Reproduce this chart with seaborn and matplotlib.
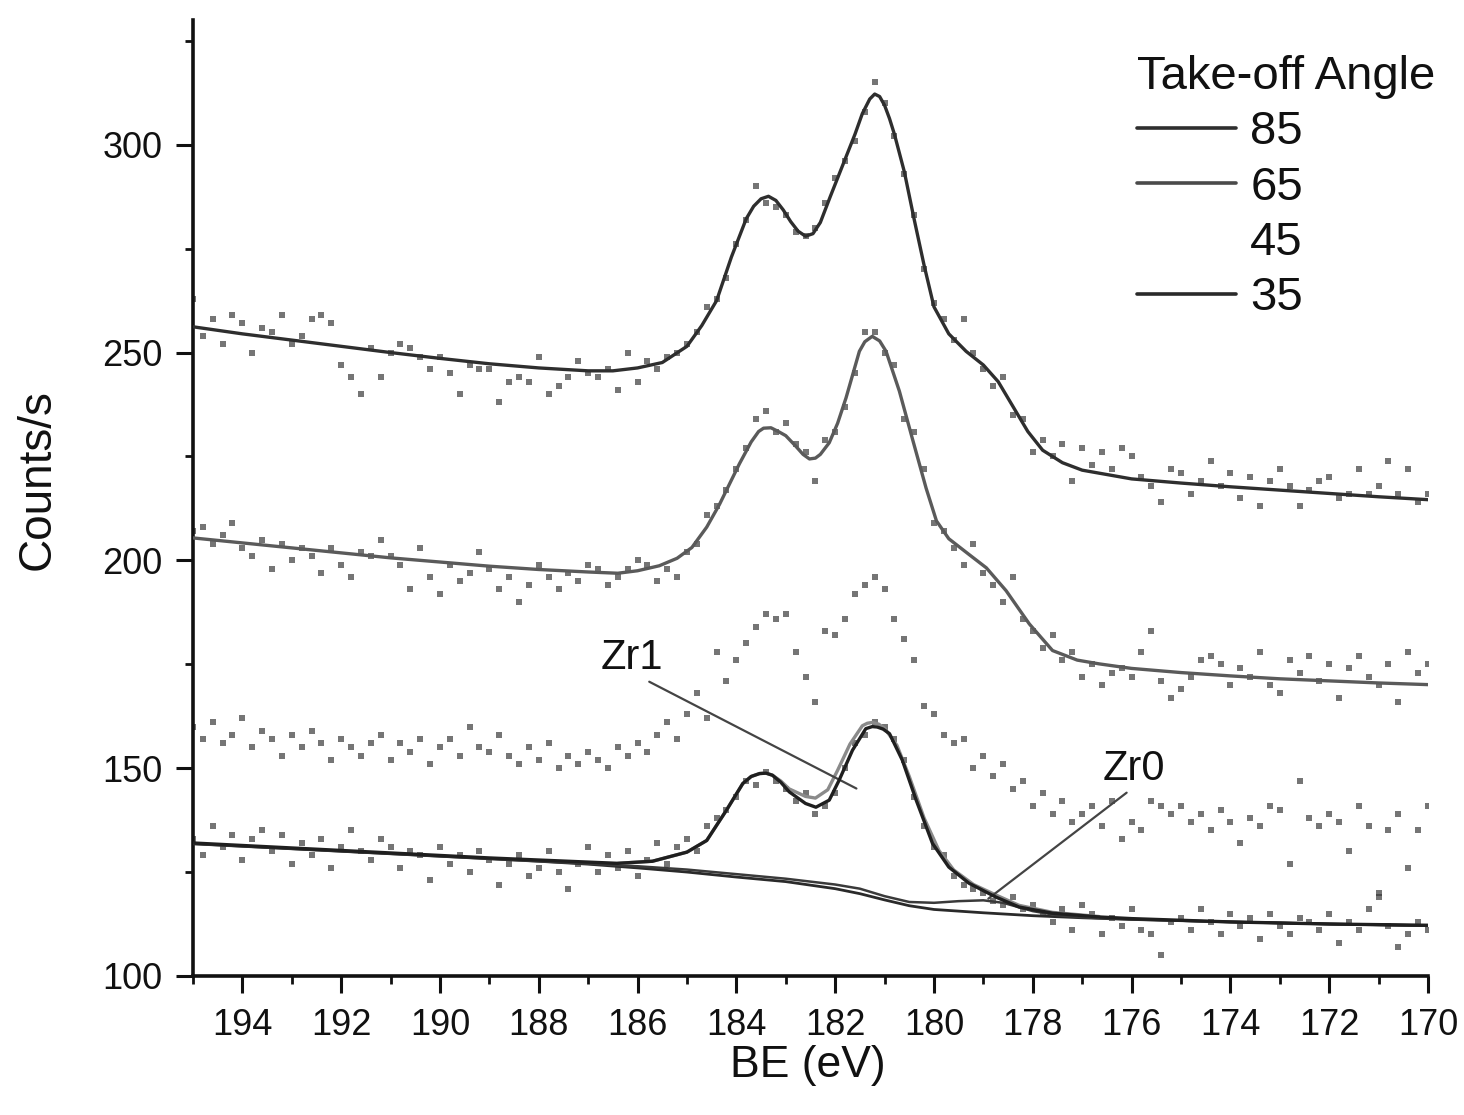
import numpy as np
import matplotlib
matplotlib.use("Agg")
import matplotlib.pyplot as plt
from matplotlib.lines import Line2D
from matplotlib.ticker import MultipleLocator
import seaborn as sns

# Binding-energy grid of the recorded Zr 3d spectra (eV, 0.2 eV step)
be_grid = np.round(np.linspace(195.0, 170.0, 126), 1)

# Measured counts per take-off angle
counts_85 = [263, 254, 258, 252, 259, 257, 250, 256, 255, 259,
             252, 254, 258, 259, 257, 247, 244, 240, 251, 244,
             250, 252, 251, 249, 246, 249, 245, 240, 247, 246,
             246, 238, 243, 244, 243, 249, 240, 242, 244, 248,
             245, 244, 246, 241, 250, 243, 248, 246, 249, 250,
             252, 255, 261, 263, 268, 276, 282, 290, 286, 285,
             283, 279, 278, 280, 286, 292, 296, 301, 308, 315,
             310, 302, 293, 283, 270, 262, 258, 253, 258, 250,
             246, 242, 244, 235, 234, 226, 229, 225, 228, 219,
             227, 223, 226, 222, 227, 225, 220, 218, 214, 222,
             221, 216, 219, 224, 218, 221, 215, 220, 213, 219,
             222, 218, 213, 217, 219, 220, 215, 216, 222, 216,
             218, 224, 216, 222, 214, 216]

counts_65 = [207, 208, 204, 206, 209, 203, 201, 205, 198, 204,
             200, 203, 201, 197, 203, 199, 196, 202, 201, 205,
             201, 199, 193, 203, 196, 192, 199, 195, 197, 202,
             198, 193, 196, 190, 194, 199, 196, 193, 197, 195,
             199, 198, 194, 196, 198, 200, 199, 195, 198, 196,
             202, 204, 211, 213, 217, 222, 227, 234, 236, 231,
             233, 228, 226, 219, 229, 231, 237, 245, 255, 255,
             250, 247, 234, 231, 222, 209, 207, 203, 199, 204,
             197, 194, 190, 196, 186, 183, 179, 182, 176, 178,
             172, 175, 170, 173, 174, 172, 178, 183, 171, 167,
             169, 172, 176, 177, 175, 170, 174, 172, 178, 170,
             168, 176, 173, 177, 171, 175, 167, 174, 177, 172,
             170, 175, 166, 178, 173, 175]

counts_45 = [160, 157, 161, 156, 158, 162, 155, 159, 157, 153,
             158, 155, 159, 156, 152, 157, 155, 153, 156, 158,
             152, 156, 154, 157, 151, 155, 157, 153, 160, 155,
             154, 158, 153, 151, 155, 152, 156, 150, 153, 151,
             154, 152, 150, 155, 153, 156, 154, 158, 161, 157,
             163, 168, 162, 178, 171, 176, 180, 184, 187, 186,
             187, 178, 172, 166, 183, 182, 186, 192, 194, 196,
             193, 186, 181, 176, 165, 163, 158, 156, 157, 150,
             153, 148, 151, 145, 147, 141, 144, 139, 142, 137,
             139, 141, 136, 142, 133, 137, 135, 142, 141, 139,
             141, 137, 139, 135, 140, 137, 132, 138, 136, 141,
             140, 127, 147, 138, 136, 139, 137, 130, 141, 136,
             120, 135, 139, 126, 135, 141]

counts_35 = [133, 129, 136, 131, 134, 128, 133, 135, 130, 134,
             127, 132, 129, 133, 126, 131, 135, 130, 128, 133,
             131, 126, 130, 129, 123, 131, 127, 129, 125, 130,
             128, 122, 127, 129, 124, 126, 130, 125, 121, 127,
             131, 125, 129, 126, 130, 124, 128, 132, 127, 131,
             133, 130, 136, 138, 140, 143, 147, 146, 149, 147,
             145, 142, 144, 139, 141, 144, 150, 156, 158, 161,
             160, 157, 152, 143, 136, 131, 129, 124, 122, 121,
             120, 118, 117, 119, 116, 117, 115, 113, 116, 111,
             117, 115, 110, 114, 112, 116, 111, 110, 105, 113,
             114, 111, 116, 113, 110, 115, 112, 114, 109, 115,
             112, 110, 114, 113, 111, 115, 108, 113, 111, 116,
             119, 112, 107, 110, 113, 111]

# Fitted envelopes
fit_85_be = [195.0, 194.0, 193.0, 192.0, 191.0, 190.0, 189.0, 188.0, 187.0,
             186.5, 186.0, 185.5, 185.0, 184.7, 184.4, 184.1, 183.8, 183.65,
             183.5, 183.35, 183.2, 183.05, 182.9, 182.75, 182.6, 182.45,
             182.3, 182.1, 181.85, 181.6, 181.45, 181.3, 181.2, 181.1, 181.0,
             180.9, 180.8, 180.6, 180.4, 180.2, 180.0, 179.7, 179.35, 179.0,
             178.7, 178.4, 178.1, 177.8, 177.4, 177.0, 176.0, 175.0, 174.0,
             173.0, 172.0, 171.0, 170.0]
fit_85 = [256.2, 254.5, 253.0, 251.5, 250.0, 248.6, 247.3, 246.3, 245.6,
          245.6, 246.3, 247.6, 251.5, 256.5, 262.5, 273.0, 282.2, 285.2,
          287.0, 287.6, 286.6, 284.3, 281.5, 279.2, 278.0, 278.6,
          281.3, 287.5, 295.0, 302.5, 307.5, 311.0, 312.2, 311.6, 309.5,
          306.3, 302.5, 293.5, 282.0, 271.0, 261.0, 254.5, 250.3, 247.0,
          243.0, 237.0, 231.0, 226.5, 223.5, 221.7, 219.6, 218.6, 217.7,
          216.9, 216.1, 215.3, 214.6]

fit_65_be = [195.0, 194.0, 193.0, 192.0, 191.0, 190.0, 189.0, 188.0, 187.0,
             186.4, 186.0, 185.56, 185.2, 184.9, 184.6, 184.34, 183.94,
             183.7, 183.55, 183.45, 183.3, 183.15, 183.0, 182.8, 182.65,
             182.52, 182.4, 182.3, 182.12, 181.95, 181.78, 181.51, 181.4,
             181.25, 181.1, 180.97, 180.7, 180.44, 180.16, 179.95, 179.7,
             179.3, 178.94, 178.54, 178.07, 177.6, 177.1, 176.66, 176.0,
             175.0, 174.0, 173.0, 172.0, 171.0, 170.0]
fit_65 = [205.4, 204.2, 203.0, 201.8, 200.6, 199.6, 198.6, 197.8, 197.2,
          196.9, 197.5, 198.7, 200.5, 203.1, 208.0, 213.5, 223.2,
          228.5, 231.0, 231.8, 231.9, 231.0, 230.0, 227.5, 225.5,
          224.4, 224.6, 225.5, 228.3, 233.0, 239.1, 250.3, 252.6,
          253.9, 252.8, 250.3, 240.7, 229.4, 217.4, 209.5, 205.2,
          201.5, 198.2, 192.7, 184.7, 178.3, 176.0, 175.1, 174.0,
          173.0, 172.2, 171.5, 171.0, 170.5, 170.1]

fit_35_be = [195.0, 194.0, 193.0, 192.0, 191.0, 190.0, 189.0, 188.0, 187.0,
             186.4, 185.7, 185.0, 184.6, 184.2, 183.87, 183.7, 183.53, 183.4,
             183.27, 183.1, 182.93, 182.6, 182.39, 182.12, 181.92, 181.65,
             181.38, 181.25, 181.15, 181.03, 180.9, 180.64, 180.36, 180.03,
             179.7, 179.29, 178.75, 178.28, 177.6, 176.66, 176.0, 174.0,
             172.0, 170.0]
fit_35 = [132.0, 131.4, 130.8, 130.2, 129.6, 129.0, 128.4, 127.9, 127.4,
          127.1, 127.6, 129.8, 132.6, 139.9, 146.3, 148.0, 148.7, 148.8,
          148.3, 146.6, 144.3, 141.5, 140.6, 142.3, 147.1, 154.3,
          159.5, 160.0, 159.9, 159.4, 158.3, 151.9, 142.3, 131.9,
          126.2, 122.3, 119.0, 116.6, 115.1, 114.2, 113.8, 113.0,
          112.5, 112.2]

# Components of the 35 degree fit
zr1_be = [186.4, 185.7, 185.0, 184.6, 184.2, 183.87, 183.7, 183.53, 183.4,
          183.27, 183.1, 182.93, 182.6, 182.4, 182.15, 181.95, 181.7, 181.45,
          181.35, 181.25, 181.12, 181.0, 180.75, 180.5, 180.2, 179.9, 179.6,
          179.2, 178.75, 178.28, 177.6, 176.66]
zr1 = [127.1, 127.6, 129.8, 132.6, 139.9, 146.3, 148.0, 148.7, 148.8,
       148.3, 146.9, 145.0, 143.2, 142.8, 144.8, 149.5, 155.8, 160.2,
       160.8, 161.0, 160.6, 159.6, 155.5, 148.0, 138.0, 130.2, 125.5,
       122.0, 119.5, 117.0, 115.3, 114.3]

zr0_be = [195.0, 190.0, 187.0, 186.0, 185.0, 184.0, 183.0, 182.0, 181.5,
          181.0, 180.5, 180.0, 179.5, 179.0, 178.6, 178.0, 177.5, 177.0,
          176.0, 174.0, 172.0, 170.0]
zr0 = [131.8, 128.8, 127.0, 126.4, 125.6, 124.5, 123.4, 122.0, 121.0,
       119.2, 117.8, 117.6, 118.0, 118.2, 117.6, 115.6, 114.6, 114.1,
       113.6, 113.0, 112.5, 112.1]

bg_be = [195.0, 190.0, 188.0, 187.0, 186.0, 185.0, 184.0, 183.0, 182.0,
         181.5, 181.0, 180.5, 180.0, 179.5, 179.0, 178.0, 177.0, 176.0,
         174.0, 172.0, 170.0]
background = [131.8, 128.8, 127.6, 126.9, 126.0, 125.0, 123.8, 122.7, 121.0,
              119.8, 118.3, 116.9, 116.0, 115.6, 115.2, 114.5, 114.0, 113.6,
              113.0, 112.5, 112.1]

angle_labels = ["85", "65", "45", "35"]
dot_color = "#3a3a3a"
ink = "#111111"

sns.set_theme(style="ticks")
plt.rcParams["font.family"] = ["Liberation Sans", "DejaVu Sans"]

fig = plt.figure(figsize=(14.64, 11.15), dpi=100)
ax = fig.add_axes([0.1318, 0.1247, 0.8436, 0.8573])

# Raw data points
for counts in (counts_85, counts_65, counts_45, counts_35):
    sns.scatterplot(x=be_grid, y=counts, ax=ax, marker="s", s=15,
                    color=dot_color, alpha=0.7, linewidth=0, legend=False,
                    zorder=2)

# Background and components of the 35 degree spectrum
sns.lineplot(x=bg_be, y=background, ax=ax, color="#2a2a2a", lw=2.0,
             legend=False, zorder=3)
sns.lineplot(x=zr0_be, y=zr0, ax=ax, color="#3a3a3a", lw=1.8,
             legend=False, zorder=3)
sns.lineplot(x=zr1_be, y=zr1, ax=ax, color="#8a8a8a", lw=2.4,
             legend=False, zorder=3)

# Fitted envelopes
for xs, ys, col in [(fit_85_be, fit_85, "#2e2e2e"),
                    (fit_65_be, fit_65, "#5a5a5a"),
                    (fit_35_be, fit_35, "#1f1f1f")]:
    sns.lineplot(x=xs, y=ys, ax=ax, color=col, lw=2.4, legend=False,
                 zorder=4)

ax.set_xlim(195, 170)
ax.set_ylim(100, 330)
ax.xaxis.set_major_locator(MultipleLocator(2))
ax.xaxis.set_minor_locator(MultipleLocator(1))
ax.yaxis.set_minor_locator(MultipleLocator(25))
ax.set_yticks([100, 150, 200, 250, 300])

for side in ("top", "right"):
    ax.spines[side].set_visible(False)
for side in ("left", "bottom"):
    ax.spines[side].set_linewidth(2.6)
    ax.spines[side].set_color(ink)

ax.tick_params(which="major", direction="out", length=12, width=2.2,
               labelsize=26, color=ink, labelcolor=ink)
ax.tick_params(axis="x", which="major", pad=11)
ax.tick_params(axis="y", which="major", pad=10)
ax.tick_params(which="minor", direction="out", length=6, width=2.0,
               color=ink)

ax.set_xlabel("BE (eV)", fontsize=32, color=ink)
ax.set_ylabel("Counts/s", fontsize=33, color=ink)
ax.xaxis.set_label_coords(0.498, -0.072)
ax.yaxis.set_label_coords(-0.108, 0.519)

# Peak labels with leader lines
ax.annotate("Zr1", xy=(181.57, 145.1), xytext=(186.12, 176.4),
            fontsize=30, ha="center", va="center", color=ink,
            arrowprops=dict(arrowstyle="-", color="#444444", lw=1.6,
                            shrinkA=0, shrinkB=0, relpos=(0.68, 0.0)))
ax.annotate("Zr0", xy=(178.9, 118.6), xytext=(175.95, 149.7),
            fontsize=30, ha="center", va="center", color=ink,
            arrowprops=dict(arrowstyle="-", color="#444444", lw=1.6,
                            shrinkA=0, shrinkB=0, relpos=(0.45, 0.0)))

handles = [Line2D([], [], color=c, lw=2.6) for c in
           ["#2e2e2e", "#4a4a4a", "#ffffff", "#2a2a2a"]]
leg = ax.legend(handles, angle_labels, title="Take-off Angle",
                loc="upper left", bbox_to_anchor=(1137 / 1464, 1 - 55 / 1115),
                bbox_transform=fig.transFigure, frameon=False, fontsize=34,
                title_fontsize=34, handlelength=2.1, handletextpad=0.3,
                labelspacing=0.24, borderpad=0, borderaxespad=0,
                alignment="left")
for txt in leg.get_texts():
    txt.set_color(ink)
leg.get_title().set_color(ink)

fig.savefig("out.png", dpi=100, facecolor="white")
